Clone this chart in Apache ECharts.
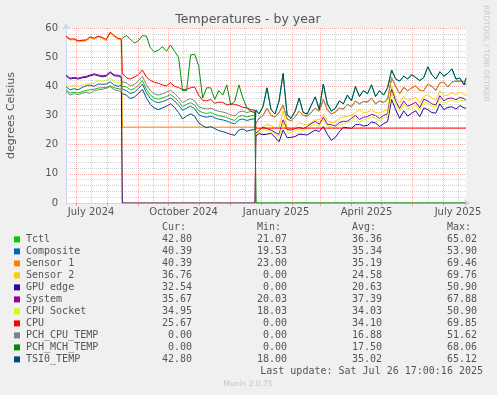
<!DOCTYPE html>
<html><head><meta charset="utf-8">
<script src="https://cdn.jsdelivr.net/npm/echarts@6/dist/echarts.min.js"></script>
<style>html,body{margin:0;padding:0;background:#F0F0F0;}#c{width:497px;height:395px;}</style>
</head><body><div id="c"></div>
<script>
// x values: days since 2024-06-21
const days = [0,4,8,12,16,20,24,28,32,36,40,44,48,52,55,
56,60,64,68,72,76,80,84,88,92,96,100,104,108,112,116,120,124,128,132,136,140,144,148,152,156,160,164,168,172,176,180,184,188,
189,192,196,200,204,208,212,216,220,224,228,232,236,240,244,248,252,256,260,264,268,272,276,280,284,288,292,296,300,304,308,312,316,320,324,328,332,336,340,344,348,352,356,360,364,368,372,376,380,384,388,392,396,398];

const tctl = [38.8,37.7,38.0,37.7,38.2,38.6,38.8,39.0,39.4,39.5,39.6,40.2,39.5,39.2,39.0,
40.0,39.8,38.8,39.2,40.3,42.0,39.0,37.0,36.0,35.6,36.0,36.5,37.2,36.2,34.8,33.0,33.8,34.4,33.6,31.6,31.0,30.7,31.0,30.4,29.9,29.7,29.3,28.7,28.3,29.7,30.0,29.5,29.9,30.1,
31.9,30.5,33.0,39.5,32.0,30.5,35.0,44.4,30.2,29.0,31.5,36.0,31.0,30.5,33.5,36.4,32.0,40.8,34.0,31.5,32.5,35.0,34.0,37.0,35.0,39.9,36.5,38.5,37.5,40.5,36.5,38.5,37.0,39.5,45.6,42.5,41.8,43.5,42.5,44.0,43.0,42.0,43.0,46.7,44.0,42.5,45.0,43.5,44.5,46.0,42.5,42.8,40.5,42.8];

const composite = [39.9,38.8,39.2,38.8,39.6,40.2,40.4,40.0,40.8,40.7,40.8,41.5,40.4,40.0,40.4,
39.0,38.6,37.5,38.0,39.2,40.8,37.8,35.8,34.8,34.4,34.8,35.3,36.0,35.0,33.5,31.8,32.5,33.2,32.3,30.3,29.7,29.4,29.8,29.2,28.7,28.5,28.1,27.5,27.1,28.5,28.8,28.3,28.7,28.9,
27.5,29.0,30.0,32.5,30.0,29.5,31.0,33.5,28.8,28.2,29.5,31.5,30.0,29.8,31.0,32.5,31.5,35.5,32.0,30.5,31.2,32.5,32.2,33.8,33.0,35.0,34.0,34.8,34.6,36.0,34.0,35.0,34.5,35.5,43.0,40.0,37.4,39.6,38.5,39.5,40.2,38.6,38.5,40.8,40.0,38.6,41.2,41.4,39.8,41.5,41.8,41.8,41.6,40.4];

const sensor1 = [56.9,55.9,56.0,55.3,55.5,55.6,56.7,56.2,56.9,56.5,55.7,58.3,57.1,56.1,56.0,
26.0,26.0,26.0,26.0,26.0,26.0,26.0,26.0,26.0,26.0,26.0,26.0,26.0,26.0,26.0,26.0,26.0,26.0,26.0,26.0,26.0,26.0,26.0,26.0,26.0,26.0,26.0,26.0,26.0,26.0,26.0,26.0,26.0,26.0,
27.5,29.0,30.0,32.5,30.0,29.5,31.0,33.5,28.8,28.2,29.5,31.5,30.0,29.8,31.0,32.5,31.5,35.5,32.0,30.5,31.2,32.5,32.2,33.8,33.0,35.0,34.0,34.8,34.6,36.0,34.0,35.0,34.5,35.5,43.0,40.0,37.4,39.6,38.5,39.5,40.2,38.6,38.5,40.8,40.0,38.6,41.2,41.4,39.8,41.5,41.8,41.8,41.6,40.4];

const sensor2 = [57.0,56.0,56.1,55.4,55.6,55.7,56.8,56.3,57.0,56.6,55.8,58.4,57.2,56.2,56.1,
0,0,0,0,0,0,0,0,0,0,0,0,0,0,0,0,0,0,0,0,0,0,0,0,0,0,0,0,0,0,0,0,0,0,
25.0,25.5,26.0,27.0,26.5,25.8,26.0,31.5,26.0,25.5,26.0,27.5,27.0,26.8,27.5,28.5,28.6,30.2,28.2,27.5,27.8,29.0,29.5,29.8,30.0,31.0,32.0,31.0,31.2,31.8,31.0,30.8,31.5,32.0,40.0,36.0,34.3,36.6,35.2,35.6,36.2,34.4,36.5,37.2,36.0,35.2,38.5,36.8,37.0,37.8,37.2,38.0,37.2,36.8];

const gpuEdge = [43.6,42.5,42.8,42.5,42.9,43.1,43.6,44.0,43.6,43.3,43.5,44.7,43.6,43.5,43.1,
0,0,0,0,0,0,0,0,0,0,0,0,0,0,0,0,0,0,0,0,0,0,0,0,0,0,0,0,0,0,0,0,0,0,
23.0,23.8,23.4,23.6,23.9,22.5,21.0,25.0,22.4,22.5,22.8,23.6,23.5,23.3,24.2,25.0,24.5,26.2,23.6,21.5,22.5,24.4,26.0,25.8,25.6,26.8,27.0,26.4,26.6,27.8,27.4,26.2,27.2,27.9,35.5,32.0,29.0,31.6,29.8,30.8,31.6,29.6,32.6,32.0,31.0,30.8,34.0,32.0,32.8,33.0,32.2,33.4,32.6,32.5];

const system = [43.9,42.8,43.1,42.8,43.2,43.4,43.9,44.3,43.9,43.6,43.8,45.0,43.9,43.8,43.4,
null,null,null,null,null,null,null,null,null,null,null,null,null,null,null,null,null,null,null,null,null,null,null,null,null,null,null,null,null,null,null,null,null,null,
24.0,24.8,26.0,25.5,25.0,24.2,23.5,28.5,25.2,25.0,25.5,26.0,25.5,26.2,27.2,28.0,27.0,29.4,27.0,26.8,26.4,27.6,28.0,28.0,29.0,30.0,28.6,29.4,29.6,30.4,30.0,29.0,30.0,30.6,39.0,35.0,32.4,35.0,33.2,33.8,34.6,32.6,35.6,35.0,34.0,33.6,36.8,35.0,35.8,36.0,35.4,36.2,35.8,35.2];

const cpuSocket = [41.0,40.0,40.4,40.0,40.4,40.8,41.0,41.0,42.0,41.8,42.0,42.7,41.6,41.1,41.5,
null,null,null,null,null,null,null,null,null,null,null,null,null,null,null,null,null,null,null,null,null,null,null,null,null,null,null,null,null,null,null,null,null,null,
23.5,24.2,25.2,24.8,24.3,23.5,22.8,27.5,24.5,24.2,24.8,25.2,24.8,25.4,26.4,27.2,26.2,28.6,26.4,26.0,25.6,26.8,27.2,27.2,28.2,29.0,27.8,28.5,28.8,29.5,29.0,28.2,29.2,29.6,37.8,34.0,31.5,34.0,32.3,32.8,33.6,31.8,34.6,34.2,33.2,32.8,35.8,34.2,34.8,35.2,34.6,35.3,35.0,34.9];

const cpu = [57.2,56.2,56.3,55.6,55.8,55.9,57.0,56.5,57.2,56.8,56.0,58.6,57.4,56.4,56.3,
44.5,43.0,42.5,43.2,44.0,45.6,43.2,42.0,41.4,41.0,40.5,40.2,41.2,40.0,39.6,38.8,39.0,39.5,39.8,37.0,35.2,35.0,35.5,34.2,34.6,34.5,33.6,34.0,33.8,33.4,32.8,32.6,32.0,31.8,
25.67,25.67,25.67,25.67,25.67,25.67,25.67,25.67,25.67,25.67,25.67,25.67,25.67,25.67,25.67,25.67,25.67,25.67,25.67,25.67,25.67,25.67,25.67,25.67,25.67,25.67,25.67,25.67,25.67,25.67,25.67,25.67,25.67,25.67,25.67,25.67,25.67,25.67,25.67,25.67,25.67,25.67,25.67,25.67,25.67,25.67,25.67,25.67,25.67,25.67,25.67,25.67,25.67,25.67];

const pchCpu = [38.2,37.0,37.5,37.1,37.6,38.0,37.6,38.5,38.8,39.0,39.3,39.9,38.8,38.5,38.2,
41.6,41.2,40.2,40.6,41.8,43.5,40.5,38.5,37.4,37.0,37.4,38.0,38.7,37.6,36.2,34.4,35.2,35.8,35.0,33.0,32.5,32.2,32.5,31.9,31.4,31.2,30.8,30.2,29.8,31.2,31.5,31.0,31.4,31.6,
0,0,0,0,0,0,0,0,0,0,0,0,0,0,0,0,0,0,0,0,0,0,0,0,0,0,0,0,0,0,0,0,0,0,0,0,0,0,0,0,0,0,0,0,0,0,0,0,0,0,0,0,0,0];

const pchMch = [null,null,null,null,null,null,null,null,null,null,null,null,null,null,null,
56.5,57.4,56.2,54.8,55.6,57.4,57.2,53.2,51.8,52.4,53.6,52.0,54.2,52.0,50.0,38.5,38.5,50.8,51.0,47.0,36.0,39.5,39.5,35.5,38.5,37.0,40.5,33.5,35.0,40.5,36.0,32.5,31.5,30.8,
0,0,0,0,0,0,0,0,0,0,0,0,0,0,0,0,0,0,0,0,0,0,0,0,0,0,0,0,0,0,0,0,0,0,0,0,0,0,0,0,0,0,0,0,0,0,0,0,0,0,0,0,0,0];

const tsi0 = [null,null,null,null,null,null,null,null,null,null,null,null,null,null,null,
37.5,37.0,35.8,36.3,37.5,39.0,36.0,33.8,32.5,32.0,32.6,33.2,34.0,32.8,31.0,28.8,29.8,30.6,29.8,27.5,26.5,25.8,26.2,25.5,24.8,24.5,24.0,23.5,23.2,25.0,25.4,24.6,25.0,25.2,
31.9,30.5,33.0,39.5,32.0,30.5,35.0,44.4,30.2,29.0,31.5,36.0,31.0,30.5,33.5,36.4,32.0,40.8,34.0,31.5,32.5,35.0,34.0,37.0,35.0,39.9,36.5,38.5,37.5,40.5,36.5,38.5,37.0,39.5,45.6,42.5,41.8,43.5,42.5,44.0,43.0,42.0,43.0,46.7,44.0,42.5,45.0,43.5,44.5,46.0,42.5,42.8,40.5,42.8];

const seriesNames = ['Tctl','Composite','Sensor 1','Sensor 2','GPU edge','System','CPU Socket','CPU','PCH_CPU_TEMP','PCH_MCH_TEMP','TSI0_TEMP'];
const seriesValues = [tctl, composite, sensor1, sensor2, gpuEdge, system, cpuSocket, cpu, pchCpu, pchMch, tsi0];
const curVals = ['42.80','40.39','40.39','36.76','32.54','35.67','34.95','25.67','0.00','0.00','42.80'];
const minVals = ['21.07','19.53','23.00','0.00','0.00','20.03','18.03','0.00','0.00','0.00','18.00'];
const avgVals = ['36.36','35.34','35.19','24.58','20.63','37.39','34.03','34.10','16.88','17.50','35.02'];
const maxVals = ['65.02','53.90','69.46','69.76','50.90','67.88','50.90','69.85','51.62','68.06','65.12'];
const headers = ['Cur:','Min:','Avg:','Max:'];

const monthStartDays = [10,41,72,102,133,163,194,225,253,284,314,345,375];
const midMonthDays = [25,56,87,117,148,178,209,239,268,299,329,360,390];
const tickLabelDays = [25,117,209,299,390];
const tickLabels = ['July 2024','October 2024','January 2025','April 2025','July 2025'];
const yTicks = [0,10,20,30,40,50,60];

// styling
const colors = ['#00CC00','#0066B3','#FF8000','#FFCC00','#330099','#990099','#CCFF00','#FF0000','#808080','#008F00','#00487D'];
const FONT = 'DejaVu Sans';
const MONO = 'DejaVu Sans Mono';
const TXT = '#555555';
const AXIS = '#CFD6F8';
const RED_GRID = 'rgba(240,110,110,0.55)';
const GREY_GRID = 'rgba(150,150,150,0.4)';

const chart = echarts.init(document.getElementById('c'), null, {renderer: 'canvas', width: 497, height: 395});

const series = [];
seriesNames.forEach((n, i) => {
  series.push({
    type: 'line', name: n, z: 3, showSymbol: false, symbol: 'none', connectNulls: false,
    lineStyle: {color: colors[i], width: 1}, itemStyle: {color: colors[i]},
    data: days.map((d, k) => [d, seriesValues[i][k]]),
    animation: false
  });
});

const graphic = [];
graphic.push({type: 'text', x: 248, y: 19.5, style: {text: 'Temperatures - by year', font: '12.5px ' + FONT, fill: TXT, textAlign: 'center', textVerticalAlign: 'middle'}});
graphic.push({type: 'text', x: 11, y: 115.5, rotation: Math.PI / 2, style: {text: 'degrees Celsius', font: '11px ' + FONT, fill: TXT, textAlign: 'center', textVerticalAlign: 'middle'}});
graphic.push({type: 'text', x: 486, y: 5, rotation: -Math.PI / 2, style: {text: 'RRDTOOL / TOBI OETIKER', font: '7.5px ' + FONT, fill: '#c8c8c8', textAlign: 'left', textVerticalAlign: 'middle'}});
const headerRight = [186, 281, 376, 471];
headers.forEach((h, j) => graphic.push({type: 'text', x: headerRight[j], y: 227.5, style: {text: h, font: '10px ' + MONO, fill: TXT, textAlign: 'right', textVerticalAlign: 'middle'}}));
const colRight = [192, 287, 382, 477];
seriesNames.forEach((n, i) => {
  const y = 239.4 + 12 * i;
  graphic.push({type: 'rect', shape: {x: 14, y: y - 3, width: 6, height: 6}, style: {fill: colors[i]}});
  graphic.push({type: 'text', x: 26, y: y, style: {text: n, font: '10px ' + MONO, fill: TXT, textAlign: 'left', textVerticalAlign: 'middle'}});
  [curVals, minVals, avgVals, maxVals].forEach((arr, j) => {
    graphic.push({type: 'text', x: colRight[j], y: y, style: {text: arr[i], font: '10px ' + MONO, fill: TXT, textAlign: 'right', textVerticalAlign: 'middle'}});
  });
});
graphic.push({type: 'text', x: 483, y: 371.6, style: {text: 'Last update: Sat Jul 26 17:00:16 2025', font: '10px ' + MONO, fill: TXT, textAlign: 'right', textVerticalAlign: 'middle'}});
graphic.push({type: 'text', x: 248, y: 384, style: {text: 'Munin 2.0.75', font: '7.5px ' + FONT, fill: '#c4c4c4', textAlign: 'center', textVerticalAlign: 'middle'}});

const gridAxis = (vals, color) => ({
  type: 'value', min: 0, max: 398, position: 'bottom',
  axisLine: {show: false}, axisLabel: {show: false},
  axisTick: {show: false, customValues: vals},
  splitLine: {show: true, lineStyle: {color: color, width: 1, type: [1,1]}}
});

chart.setOption({
  animation: false,
  backgroundColor: '#F0F0F0',
  grid: {left: 66, top: 28, width: 400, height: 175, show: true, backgroundColor: '#FFFFFF', borderWidth: 0, containLabel: false, outerBoundsMode: 'none'},
  xAxis: [{
    type: 'value', min: 0, max: 398, position: 'bottom',
    axisLine: {show: true, lineStyle: {color: AXIS, width: 1}, symbol: ['none', 'arrow'], symbolSize: [6, 7], symbolOffset: [0, 5]},
    axisTick: {show: true, customValues: monthStartDays, length: 3, inside: false, lineStyle: {color: RED_GRID}},
    splitLine: {show: false},
    axisLabel: {show: true, customValues: tickLabelDays, formatter: v => tickLabels[tickLabelDays.indexOf(v)] || '', fontFamily: FONT, fontSize: 10, color: TXT, margin: 4, showMinLabel: true, showMaxLabel: true, hideOverlap: false}
  }, gridAxis(midMonthDays, GREY_GRID), gridAxis(monthStartDays, RED_GRID)],
  yAxis: {
    type: 'value', min: 0, max: 60, interval: 10,
    axisLine: {show: true, lineStyle: {color: AXIS, width: 1}, symbol: ['none', 'arrow'], symbolSize: [6, 7], symbolOffset: [0, 5]},
    axisTick: {show: false},
    minorTick: {show: false, splitNumber: 5},
    splitLine: {show: true, lineStyle: {color: RED_GRID, width: 1, type: [1,1]}},
    minorSplitLine: {show: true, lineStyle: {color: GREY_GRID, width: 1, type: [1,1]}},
    axisLabel: {customValues: yTicks, fontFamily: FONT, fontSize: 10, color: TXT, margin: 8}
  },
  series: series,
  graphic: graphic
});
</script></body></html>
